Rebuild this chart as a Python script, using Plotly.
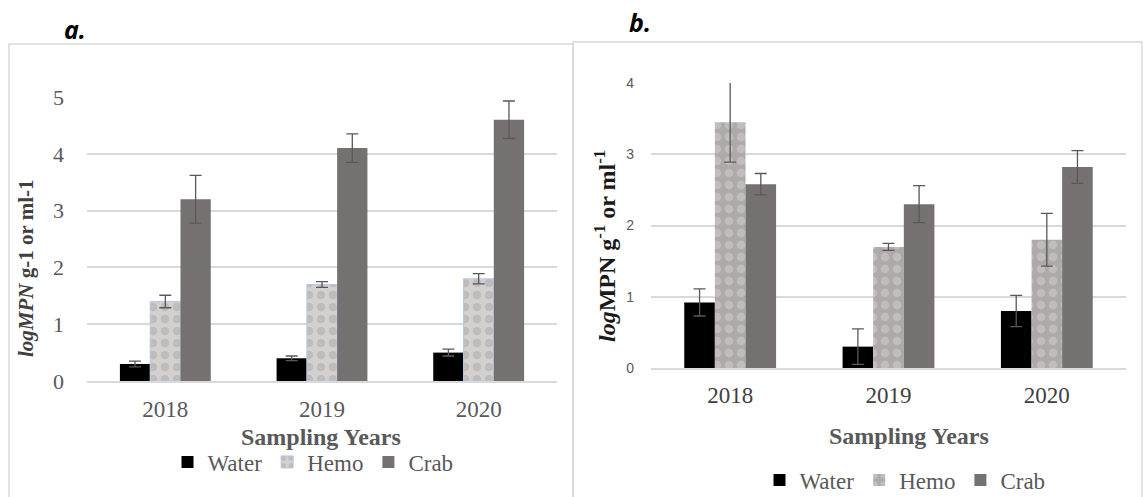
import plotly.graph_objects as go

# ---- data ----
years = ["2018", "2019", "2020"]
series = ["Water", "Hemo", "Crab"]

# panel a
a_water = [0.3, 0.4, 0.5]
a_water_err = [0.05, 0.04, 0.06]
a_hemo = [1.4, 1.7, 1.8]
a_hemo_err = [0.11, 0.05, 0.09]
a_crab = [3.2, 4.1, 4.6]
a_crab_err = [0.42, 0.25, 0.33]

# panel b
b_water = [0.92, 0.3, 0.8]
b_water_err = [0.19, 0.25, 0.22]
b_hemo = [3.45, 1.7, 1.8]
b_hemo_err = [0.56, 0.05, 0.37]
b_crab = [2.58, 2.3, 2.82]
b_crab_err = [0.15, 0.26, 0.23]

a_ticks = [0, 1, 2, 3, 4, 5]
b_ticks = [0, 1, 2, 3, 4]

W, H = 1143, 497
SERIF = "Liberation Serif, Times New Roman, serif"
SANS = "Liberation Sans, Arial, sans-serif"
TXT = "#595959"
GRID = "#d9d9d9"


def px(x):
    return x / W


def py(y):
    return 1 - y / H


def style(name, panel):
    if name == "Water":
        return dict(color="#000000", line=dict(width=0))
    if name == "Crab":
        return dict(color="#767171", line=dict(width=0))
    if panel == "a":
        # light fill with darker dotted diamonds, thin blue outline
        return dict(color="#d3d0d0", line=dict(width=1, color="#b4c7e7"),
                    pattern=dict(shape=".", fgcolor="#aca8a8",
                                 bgcolor="#d3d0d0", size=12, solidity=0.4))
    # darker fill with light dotted diamonds
    return dict(color="#aeaaaa", line=dict(width=0),
                pattern=dict(shape=".", fgcolor="#d3d0d0",
                             bgcolor="#aeaaaa", size=12, solidity=0.4))


def err(vals):
    return dict(type="data", array=vals, visible=True, color=TXT,
                thickness=1.3, width=6)


fig = go.Figure()

for name, vals, e in zip(series, [a_water, a_hemo, a_crab],
                         [a_water_err, a_hemo_err, a_crab_err]):
    fig.add_trace(go.Bar(x=years, y=vals, name=name, marker=style(name, "a"),
                         error_y=err(e), xaxis="x", yaxis="y",
                         legend="legend"))

for name, vals, e in zip(series, [b_water, b_hemo, b_crab],
                         [b_water_err, b_hemo_err, b_crab_err]):
    fig.add_trace(go.Bar(x=years, y=vals, name=name, marker=style(name, "b"),
                         error_y=err(e), xaxis="x2", yaxis="y2",
                         legend="legend2"))

fig.update_layout(
    width=W, height=H,
    margin=dict(l=0, r=0, t=0, b=0, autoexpand=False),
    paper_bgcolor="white", plot_bgcolor="white",
    barmode="group", bargap=0.42, bargroupgap=0,
    xaxis=dict(domain=[px(87), px(557)], anchor="y", showgrid=False,
               showline=True, linecolor=GRID, linewidth=1.5, ticks="",
               zeroline=False,
               tickfont=dict(family=SERIF, size=23, color=TXT),
               ticklabelstandoff=7),
    yaxis=dict(domain=[py(381), py(97)], anchor="x", range=[0, 5],
               tickvals=a_ticks, showgrid=True, gridcolor=GRID, gridwidth=1.5,
               showline=False, ticks="", zeroline=False,
               tickfont=dict(family=SERIF, size=22, color=TXT),
               ticklabelstandoff=22),
    xaxis2=dict(domain=[px(651), px(1126)], anchor="y2", showgrid=False,
                showline=True, linecolor=GRID, linewidth=1.5, ticks="",
                zeroline=False,
                tickfont=dict(family=SERIF, size=23, color="#404040"),
                ticklabelstandoff=6),
    yaxis2=dict(domain=[py(368), py(83)], anchor="x2", range=[0, 4],
                tickvals=b_ticks, showgrid=True, gridcolor=GRID, gridwidth=1.5,
                showline=False, ticks="", zeroline=False,
                tickfont=dict(family=SANS, size=14, color=TXT),
                ticklabelstandoff=16),
    legend=dict(orientation="h", x=px(313), y=py(462), xanchor="center",
                yanchor="middle", font=dict(family=SERIF, size=23, color=TXT),
                itemwidth=30, tracegroupgap=0, bgcolor="rgba(0,0,0,0)"),
    legend2=dict(orientation="h", x=px(905), y=py(480), xanchor="center",
                 yanchor="middle", font=dict(family=SERIF, size=23, color=TXT),
                 itemwidth=30, tracegroupgap=0, bgcolor="rgba(0,0,0,0)"),
    showlegend=True,
)

# panel frames
fig.add_shape(type="rect", xref="paper", yref="paper",
              x0=px(9), x1=px(573), y0=py(499), y1=py(44),
              line=dict(color=GRID, width=1.5), layer="below")
fig.add_shape(type="rect", xref="paper", yref="paper",
              x0=px(573), x1=px(1142), y0=py(499), y1=py(42),
              line=dict(color=GRID, width=1.5), layer="below")

annotations = [
    dict(text="<b><i>a.</i></b>", x=px(75), y=py(29),
         font=dict(family="Open Sans, sans-serif", size=25, color="#000")),
    dict(text="<b><i>b.</i></b>", x=px(640), y=py(22),
         font=dict(family="Open Sans, sans-serif", size=25, color="#000")),
    dict(text="<b><i>logMPN</i> g-1 or ml-1</b>", x=px(26), y=py(268),
         textangle=-90, font=dict(family=SERIF, size=21, color="#404040")),
    dict(text="<b><i>log</i>MPN g<sup>-1</sup> or ml<sup>-1</sup></b>",
         x=px(605), y=py(246), textangle=-90,
         font=dict(family=SERIF, size=24, color="#1a1a1a")),
    dict(text="<b>Sampling Years</b>", x=px(321), y=py(437),
         font=dict(family=SERIF, size=24, color=TXT)),
    dict(text="<b>Sampling Years</b>", x=px(909), y=py(436),
         font=dict(family=SERIF, size=24, color=TXT)),
]
for a in annotations:
    fig.add_annotation(xref="paper", yref="paper", showarrow=False,
                       xanchor="center", yanchor="middle", **a)

fig.write_html("out.html")
